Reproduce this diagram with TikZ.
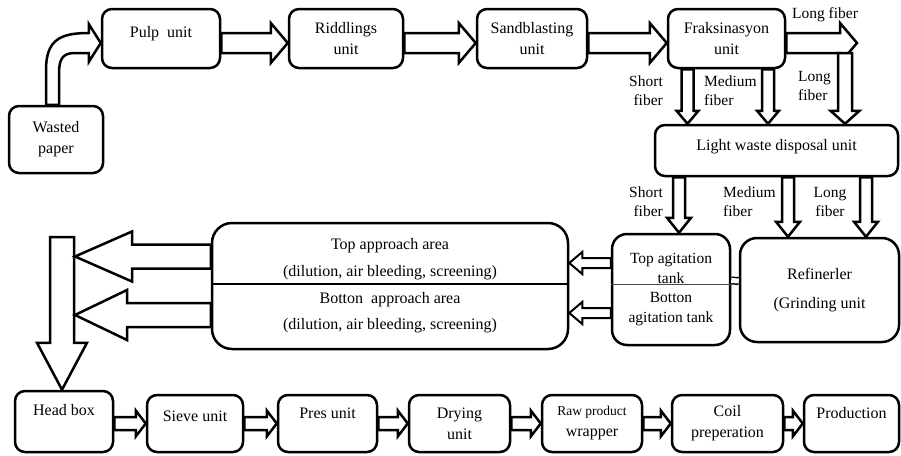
\documentclass[tikz,border=0pt]{standalone}
\usepackage{fontspec}
\setmainfont{Liberation Serif}
\usetikzlibrary{calc}

\tikzset{
  unit/.style={draw,line width=2.5pt,rounded corners=10pt,align=center,inner sep=2pt,
    font=\fontsize{16}{21}\selectfont},
  lift/.style={text depth=#1},
  lbl/.style={inner sep=0pt,font=\fontsize{15.5}{19}\selectfont},
  arrowbody/.style={draw,fill=white,line width=2.5pt,line join=miter},
  thinbody/.style={arrowbody,line width=2pt},
}
% [style]{from}{tip}{half shaft}{half head}{head length}
\newcommand{\blockarrow}[6][]{%
  \coordinate (ba-s) at #2;
  \coordinate (ba-t) at #3;
  \coordinate (ba-h) at ($(ba-t)!#6!(ba-s)$);
  \draw[arrowbody,#1] ($(ba-s)!#4!90:(ba-t)$) -- ($(ba-h)!#4!90:(ba-t)$)
    -- ($(ba-h)!#5!90:(ba-t)$) -- (ba-t) -- ($(ba-h)!#5!-90:(ba-t)$)
    -- ($(ba-h)!#4!-90:(ba-t)$) -- ($(ba-s)!#4!-90:(ba-t)$) -- cycle;
}

\begin{document}
\begin{tikzpicture}[x=1pt,y=-1pt]
\useasboundingbox (0,0) rectangle (901,455);

% top row
\node[unit,minimum width=94pt,minimum height=67pt] (waste) at (56,139.5) {Wasted\\paper};
\node[unit,minimum width=118pt,minimum height=59pt,lift=13pt] (pulp) at (161,38.5) {Pulp~~unit};
\node[unit,minimum width=114pt,minimum height=59pt] (ridd) at (346,38.5) {Riddlings\\unit};
\node[unit,minimum width=110pt,minimum height=59pt] (sand) at (532,38.5) {Sandblasting\\unit};
\node[unit,minimum width=117pt,minimum height=59pt] (frak) at (726.5,38.5) {Fraksinasyon\\unit};
\node[unit,minimum width=243pt,minimum height=51pt,lift=11pt] (light) at (776.5,150.5) {Light waste disposal unit};

% middle row
\node[unit,rounded corners=20pt,minimum width=356pt,minimum height=126pt,
  font=\fontsize{16}{26.7}\selectfont] (appr) at (390,286)
  {Top approach area\\(dilution, air bleeding, screening)\\Botton~~approach area\\(dilution, air bleeding, screening)};
\node[unit,rounded corners=15pt,minimum width=118pt,minimum height=111pt,
  font=\fontsize{15.5}{19.7}\selectfont] (agit) at (671,289.5)
  {Top agitation\\tank\\Botton\\agitation tank};
\node[unit,rounded corners=17pt,minimum width=159pt,minimum height=104pt,
  font=\fontsize{16}{29}\selectfont] (ref) at (819.5,290) {Refinerler\\(Grinding unit};

% bottom row
\node[unit,minimum width=98pt,minimum height=61pt,lift=23pt] (head) at (64,421.5) {Head box};
\node[unit,minimum width=96pt,minimum height=57pt,lift=15pt] (sieve) at (195,423.5) {Sieve unit};
\node[unit,minimum width=99pt,minimum height=57pt,lift=21pt] (pres) at (327.5,423.5) {Pres unit};
\node[unit,minimum width=101pt,minimum height=57pt] (dry) at (459.5,423.5) {Drying\\unit};
\node[unit,minimum width=100pt,minimum height=57pt] (wrap) at (592,423.5)
  {{\fontsize{13.5}{16}\selectfont Raw product}\\wrapper};
\node[unit,minimum width=111pt,minimum height=57pt] (coil) at (727.5,423.5) {Coil\\preperation};
\node[unit,minimum width=95pt,minimum height=57pt,lift=21pt] (prod) at (851.5,423.5) {Production};

\draw[line width=1.5pt] ([yshift=2pt]appr.west) -- ([yshift=2pt]appr.east);
\draw[line width=1pt,black!70] ([yshift=5.5pt]agit.west) -- ([yshift=5.5pt]agit.east);

\coordinate (lf) at (857,43);
\coordinate (lfd) at (845,53);
\coordinate (hb) at (62,237);
\coordinate (tt) at (75,256.5);
\coordinate (bt) at (75,315);
\coordinate (at1) at ([yshift=26.5pt]agit.west);
\coordinate (at2) at ([yshift=-23.5pt]agit.west);

% bent arrow
\draw[arrowbody] let \p1=([xshift=-3.5pt]waste.north), \p2=([yshift=-4.5pt]pulp.west) in
  (\x1-6.5pt,\y1) -- (\x1-6.5pt,\y2-27pt)
  .. controls (\x1-6.5pt,\y2+3pt) and (\x1+7.5pt,\y2+10pt) .. (\x2-12pt,\y2+10pt)
  -- (\x2-12pt,\y2+19pt) -- (\x2,\y2) -- (\x2-12pt,\y2-19pt) -- (\x2-12pt,\y2-10pt)
  -- (\x1+22.5pt,\y2-10pt)
  .. controls (\x1+9pt,\y2-10pt) and (\x1+6.5pt,\y2-17pt) .. (\x1+6.5pt,\y2-32pt)
  -- (\x1+6.5pt,\y1) -- cycle;

\blockarrow{([yshift=-4.5pt]pulp.east)}{([yshift=-4.5pt]ridd.west)}{10pt}{20pt}{17pt}
\blockarrow{([yshift=-4.5pt]ridd.east)}{([yshift=-4.5pt]sand.west)}{10pt}{20pt}{17pt}
\blockarrow{([yshift=-4.5pt]sand.east)}{([yshift=-4.5pt]frak.west)}{10pt}{20pt}{17pt}
\blockarrow{([yshift=-4.5pt]frak.east)}{(lf)}{10pt}{20pt}{17pt}
\blockarrow{(lfd)}{(lfd |- light.north)}{7pt}{14.5pt}{13pt}
\blockarrow{([xshift=-39pt]frak.south)}{([xshift=-39pt]frak.south |- light.north)}{6pt}{11pt}{13pt}
\blockarrow{([xshift=41.5pt]frak.south)}{([xshift=41.5pt]frak.south |- light.north)}{6pt}{11pt}{13pt}

\blockarrow{([xshift=-97.5pt]light.south)}{([xshift=-97.5pt]light.south |- agit.north)}{6pt}{12pt}{15pt}
\blockarrow{([xshift=11.5pt]light.south)}{([xshift=11.5pt]light.south |- ref.north)}{6pt}{12pt}{15pt}
\blockarrow{([xshift=89.5pt]light.south)}{([xshift=89.5pt]light.south |- ref.north)}{6pt}{12pt}{15pt}

\draw[line width=1.5pt,double,double distance=5pt] ([yshift=9pt]agit.east) -- ([yshift=9pt]ref.west);
\blockarrow[thinbody]{(at1)}{(appr.east |- at1)}{5pt}{11pt}{13pt}
\blockarrow[thinbody]{(at2)}{(appr.east |- at2)}{5pt}{11pt}{13pt}

\blockarrow{(hb)}{(hb |- head.north)}{12pt}{25pt}{47pt}
\blockarrow{(appr.west |- tt)}{(tt)}{12pt}{25pt}{57pt}
\blockarrow{(appr.west |- bt)}{(bt)}{12pt}{25pt}{52pt}

\blockarrow{(head.east |- sieve.west)}{(sieve.west)}{6.5pt}{13pt}{10pt}
\blockarrow{(sieve.east)}{(pres.west)}{6.5pt}{13pt}{10pt}
\blockarrow{(pres.east)}{(dry.west)}{6.5pt}{13pt}{10pt}
\blockarrow{(dry.east)}{(wrap.west)}{6.5pt}{13pt}{10pt}
\blockarrow{(wrap.east)}{(coil.west)}{6.5pt}{13pt}{10pt}
\blockarrow{(coil.east)}{(prod.west)}{6.5pt}{13pt}{10pt}

% fiber labels
\node[lbl] (lf-t) at (825,15) {Long fiber};
\node[lbl,anchor=east,align=right] (sf-1) at (663,91) {Short\\fiber};
\node[lbl,anchor=west,align=left] (mf-1) at (704,91) {Medium\\fiber};
\node[lbl,anchor=west,align=left] (lf-1) at (798,86) {Long\\fiber};
\node[lbl,anchor=east,align=right] (sf-2) at (663,202) {Short\\fiber};
\node[lbl,anchor=west,align=left] (mf-2) at (723,202) {Medium\\fiber};
\node[lbl,align=center] (lf-2) at (830,202) {Long\\fiber};
\end{tikzpicture}
\end{document}
